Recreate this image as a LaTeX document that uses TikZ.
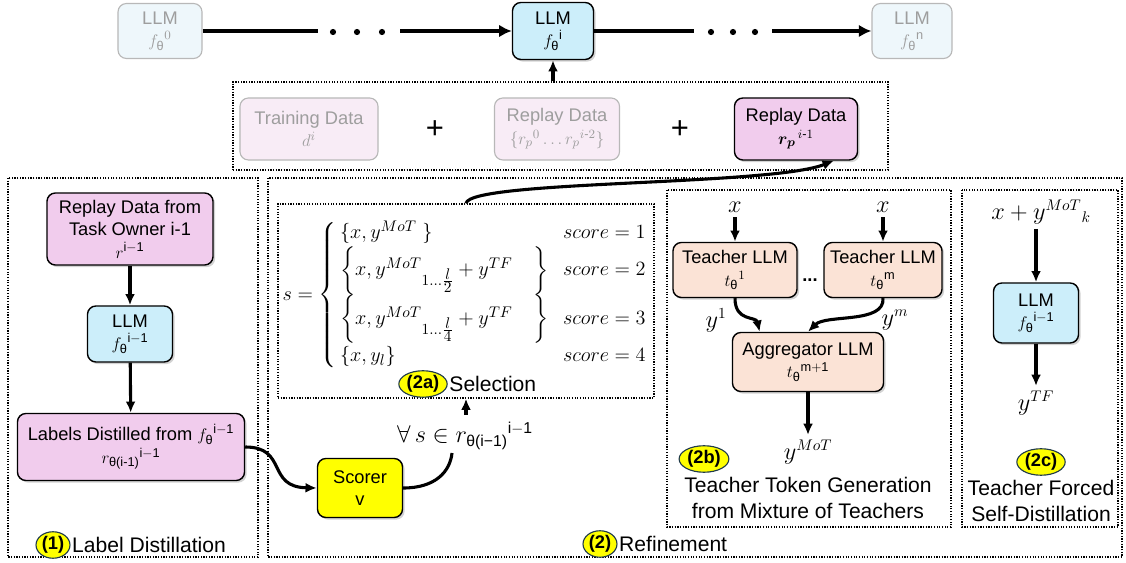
\documentclass[tikz,border=0pt]{standalone}
\usepackage{fontspec}
\setmainfont{Liberation Sans}
\usepackage{amsmath}
\usetikzlibrary{arrows.meta,shadows,shapes.geometric,positioning}

\definecolor{llmblue}{HTML}{CCEEFA}
\definecolor{llmghost}{HTML}{EEF7FB}
\definecolor{replaypink}{HTML}{F1CCED}
\definecolor{replayghost}{HTML}{F8ECF6}
\definecolor{teacherpeach}{HTML}{FBE3D6}
\definecolor{scorerfill}{HTML}{FFFF00}
\definecolor{badgeline}{HTML}{1F3A4A}

\newcommand{\thsub}{\text{θ}}

\begin{document}
\begin{tikzpicture}[x=0.025cm,y=-0.025cm,
    box/.style={draw,rounded corners=6pt,line width=1pt,align=center,inner sep=1pt,
      font=\fontsize{13}{16}\selectfont,
      drop shadow={shadow xshift=1.5pt,shadow yshift=-1.5pt,opacity=0.35}},
    ghost/.style={draw=black!28,rounded corners=6pt,line width=0.8pt,align=center,
      inner sep=1pt,text=black!38,font=\fontsize{13}{16}\selectfont},
    frame/.style={draw,densely dotted,line width=0.9pt},
    flow/.style={line width=2.2pt,-{Latex[length=8pt,width=7pt]}},
    badge/.style={ellipse,draw=badgeline,fill=scorerfill,line width=0.8pt,inner sep=0.6pt,
      font=\bfseries\fontsize{13}{15}\selectfont},
    paneltext/.style={align=center,font=\fontsize{15}{18.4}\selectfont,inner sep=1pt},
    mathlab/.style={font=\fontsize{16}{19}\selectfont}]
  \useasboundingbox (0,0) rectangle (1126,563);

  % chain of models
  \node[ghost,fill=llmghost,minimum width=2.1cm,minimum height=1.375cm] (llm0) at (160,31) {LLM\\${f_{\thsub}}^{0}$};
  \node[box,fill=llmblue,minimum width=2.025cm,minimum height=1.425cm] (llmi) at (553,31) {LLM\\${f_{\thsub}}^{\mathrm{i}}$};
  \node[ghost,fill=llmghost,minimum width=2.0cm,minimum height=1.375cm] (llmn) at (912,31) {LLM\\${f_{\thsub}}^{\mathrm{n}}$};
  \coordinate (gapA) at (318,31);
  \coordinate (gapB) at (400,31);
  \coordinate (gapC) at (772,31);
  \coordinate (gapD) at (694,31);
  \draw[line width=3pt] (llm0) -- (gapA);
  \draw[line width=3pt,-{Latex[length=9pt,width=9pt]}] (gapB) -- (llmi);
  \draw[line width=3pt] (llmi) -- (gapD);
  \draw[line width=3pt,-{Latex[length=9pt,width=9pt]}] (gapC) -- (llmn);
  \foreach \d in {333,357,382,711,733,755}
    \fill (\d,32) circle (2.2pt);

  % data mixture
  \node[frame,minimum width=16.375cm,minimum height=2.2cm] (databox) at (560.5,126) {};
  \node[ghost,fill=replayghost,minimum width=3.45cm,minimum height=1.55cm] (train) at (309,129) {Training Data\\$d^{i}$};
  \node[font=\fontsize{22}{22}\selectfont] (plusA) at (435,130) {+};
  \node[ghost,fill=replayghost,minimum width=3.125cm,minimum height=1.55cm] (replayold) at (557,129) {Replay Data\\$\{{r_p}^{0}\ldots{r_p}^{i\text{-}2}\}$};
  \node[font=\fontsize{22}{22}\selectfont] (plusB) at (680,130) {+};
  \node[box,fill=replaypink,minimum width=3.075cm,minimum height=1.55cm] (replaynew) at (796,129) {Replay Data\\$\boldsymbol{r_p}^{\,i\text{-}1}$};
  \draw[flow] (llmi.south |- databox.north) -- (llmi.south);

  % (1) label distillation
  \draw[frame] (8,178) rectangle (258,557);
  \node[box,fill=replaypink,minimum width=4.15cm,minimum height=1.8cm] (ownerdata) at (130,229) {Replay Data from\\Task Owner i-1\\$r^{\mathrm{i-1}}$};
  \node[box,fill=llmblue,minimum width=2.125cm,minimum height=1.4cm] (llmprev) at (130,334) {LLM\\${f_{\thsub}}^{\mathrm{i-1}}$};
  \node[box,fill=replaypink,minimum width=5.675cm,minimum height=1.675cm] (distilled) at (131,447) {Labels Distilled from ${f_{\thsub}}^{\mathrm{i-1}}$\\${r_{\thsub\text{(i-1)}}}^{\mathrm{i-1}}$};
  \draw[flow] (ownerdata) -- (llmprev);
  \draw[flow] (llmprev) -- (distilled);
  \node[badge] (b1) at (53,545) {(1)};
  \node[paneltext,right=0pt of b1] (t1) {Label Distillation};

  % (2) refinement
  \draw[frame] (268,178) rectangle (1122,557);
  \node[badge] (b2) at (600,544) {(2)};
  \node[paneltext,right=0pt of b2] (t2) {Refinement};

  \node[box,fill=scorerfill,minimum width=2.125cm,minimum height=1.475cm] (scorer) at (360,488) {Scorer\\v};
  \draw[flow] (distilled.east) .. controls (288,447) and (266,487) .. (scorer.west);
  \node[mathlab] (forall) at (465,436) {$\forall\, s \in {r_{\thsub\text{(i−1)}}}^{\mathrm{i-1}}$};
  \coordinate (scorerout) at (452,453);
  \draw[line width=2.2pt] (scorer.east) .. controls (435,488) and (450,472) .. (scorerout);

  % (2a) selection
  \node[frame,minimum width=9.4cm,minimum height=4.85cm] (selbox) at (466,301) {};
  \node[font=\fontsize{15}{18}\selectfont,inner sep=0pt] (cases) at (465,295) {$s=\left\{\begin{array}{@{\,}l@{\hspace{10pt}}r@{}}
      \{x, y^{MoT}\ \} & score=1\\[0pt]
      \left\{x, y^{MoT}{}_{1\ldots\frac{\scriptstyle l}{\scriptstyle 2}}+y^{TF}\quad\right\} & score=2\\[3pt]
      \left\{x, y^{MoT}{}_{1\ldots\frac{\scriptstyle l}{\scriptstyle 4}}+y^{TF}\quad\right\} & score=3\\[3pt]
      \{x, y_{l}\} & score=4
    \end{array}\right.$};
  \node[badge] (b2a) at (423,384) {(2a)};
  \node[paneltext,right=0pt of b2a] (t2a) {Selection};
  \draw[flow] ([yshift=2pt]forall.north -| selbox.south) -- (selbox.south);
  \draw[flow] (selbox.north) .. controls (470,180) and (770,186) .. (replaynew.-40);

  % (2b) mixture of teachers
  \draw[frame] (667,190) rectangle (951,527);
  \node[mathlab] (xa) at (735,207) {$x$};
  \node[mathlab] (xm) at (883,207) {$x$};
  \node[box,fill=teacherpeach,minimum width=3.1cm,minimum height=1.375cm] (teacher1) at (735,270) {Teacher LLM\\${t_{\thsub}}^{1}$};
  \node[box,fill=teacherpeach,minimum width=2.95cm,minimum height=1.375cm] (teacherm) at (883,270) {Teacher LLM\\${t_{\thsub}}^{\mathrm{m}}$};
  \node[font=\bfseries\fontsize{13}{13}\selectfont] (tdots) at (810,280) {...};
  \draw[flow] (xa) -- (teacher1);
  \draw[flow] (xm) -- (teacherm);
  \node[box,fill=teacherpeach,minimum width=3.775cm,minimum height=1.475cm] (aggregator) at (808,362) {Aggregator LLM\\${t_{\thsub}}^{\mathrm{m+1}}$};
  \node[mathlab] (y1) at (716,320) {$y^{1}$};
  \node[mathlab] (ym) at (895,320) {$y^{m}$};
  \draw[flow] (teacher1.south) .. controls (735,322) and (756,316) .. (aggregator.148);
  \draw[flow] (teacherm.south) .. controls (885,324) and (826,314) .. (aggregator.north);
  \node[mathlab] (ymot) at (808,452) {$y^{MoT}$};
  \draw[flow] (aggregator) -- (ymot);
  \node[badge] (b2b) at (704,459) {(2b)};
  \node[paneltext] (t2b) at (808,498) {Teacher Token Generation\\from Mixture of Teachers};

  % (2c) teacher forcing
  \draw[frame] (962,190) rectangle (1118,527);
  \node[mathlab] (tfin) at (1041,212) {$x+y^{MoT}{}_{k}$};
  \node[box,fill=llmblue,minimum width=2.125cm,minimum height=1.5cm] (llmtf) at (1036,313) {LLM\\${f_{\thsub}}^{\mathrm{i-1}}$};
  \node[mathlab] (ytf) at (1036,403) {$y^{TF}$};
  \draw[flow] (tfin.south -| llmtf) -- (llmtf);
  \draw[flow] (llmtf) -- (ytf);
  \node[badge] (b2c) at (1041,462) {(2c)};
  \node[paneltext] (t2c) at (1041,501) {Teacher Forced\\Self-Distillation};
\end{tikzpicture}
\end{document}
